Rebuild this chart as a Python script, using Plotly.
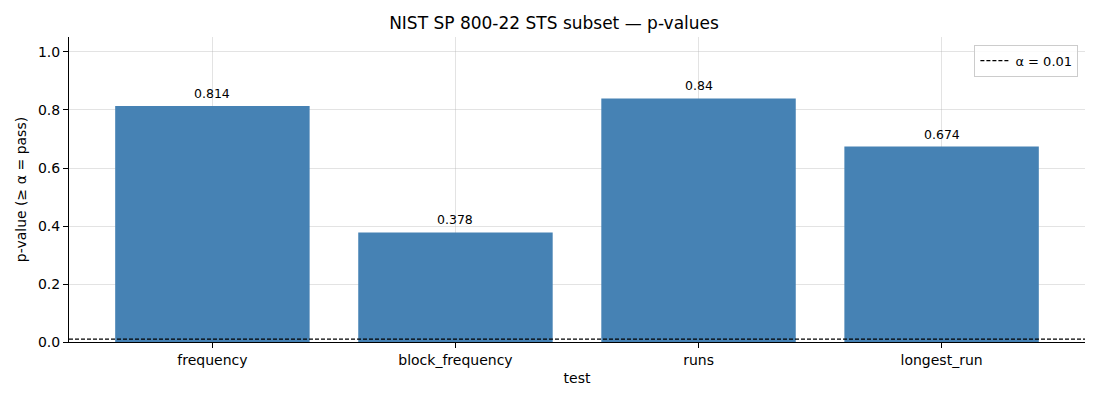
import plotly.graph_objects as go

# test results
tests = ["frequency", "block_frequency", "runs", "longest_run"]
p_values = [0.814, 0.378, 0.84, 0.674]
alpha = 0.01
y_ticks = [0.0, 0.2, 0.4, 0.6, 0.8, 1.0]

FONT = "DejaVu Sans"
BLUE = "#4682b4"
GRID = "rgba(176,176,176,0.35)"

xpos = list(range(len(tests)))

fig = go.Figure()
fig.add_trace(go.Bar(
    x=xpos, y=p_values, width=0.8,
    marker=dict(color=BLUE, line=dict(width=0)),
    showlegend=False,
))

# value labels above each bar
for i, v in zip(xpos, p_values):
    fig.add_annotation(x=i, y=v, text=f"{v:g}", showarrow=False,
                       yanchor="bottom", yshift=3, font=dict(size=12.5, color="black"))

# threshold line, plus a legend entry for it
fig.add_hline(y=alpha, line=dict(color="black", width=1.1, dash="4px,2px"), layer="above")
fig.add_trace(go.Scatter(
    x=[None], y=[None], mode="lines", name=f"α = {alpha}",
    line=dict(color="black", width=1.1, dash="4px,2px"),
))

# page body has an 8px margin, so the figure is shrunk by that much
fig.update_layout(
    width=1092, height=392,
    margin=dict(l=58, r=15, t=29, b=58),
    paper_bgcolor="white", plot_bgcolor="white",
    font=dict(family=FONT, size=14, color="black"),
    title=dict(text="NIST SP 800-22 STS subset — p-values", x=0.5, xanchor="center",
               y=1 - 15 / 392, yanchor="middle", font=dict(size=17)),
    bargap=0.2,
    legend=dict(x=0.9935, y=0.975, xanchor="right", yanchor="top",
                bgcolor="rgba(255,255,255,0.8)", bordercolor="#cccccc", borderwidth=1,
                font=dict(size=13), itemwidth=30, tracegroupgap=0),
    xaxis=dict(
        title=dict(text="test", font=dict(size=14), standoff=6),
        tickmode="array", tickvals=xpos, ticktext=tests,
        range=[-0.59, len(tests) - 1 + 0.59],
        showgrid=True, gridcolor=GRID, gridwidth=0.8,
        showline=True, linecolor="black", linewidth=1,
        ticks="outside", ticklen=5, tickcolor="black",
        zeroline=False, layer="above traces",
    ),
    yaxis=dict(
        title=dict(text="p-value (≥ α = pass)", font=dict(size=14), standoff=8),
        range=[0, 1.0517], tickvals=y_ticks, tickformat=".1f",
        showgrid=True, gridcolor=GRID, gridwidth=0.8,
        showline=True, linecolor="black", linewidth=1,
        ticks="outside", ticklen=5, tickcolor="black",
        zeroline=False, layer="above traces",
    ),
)

fig.write_html("out.html")
